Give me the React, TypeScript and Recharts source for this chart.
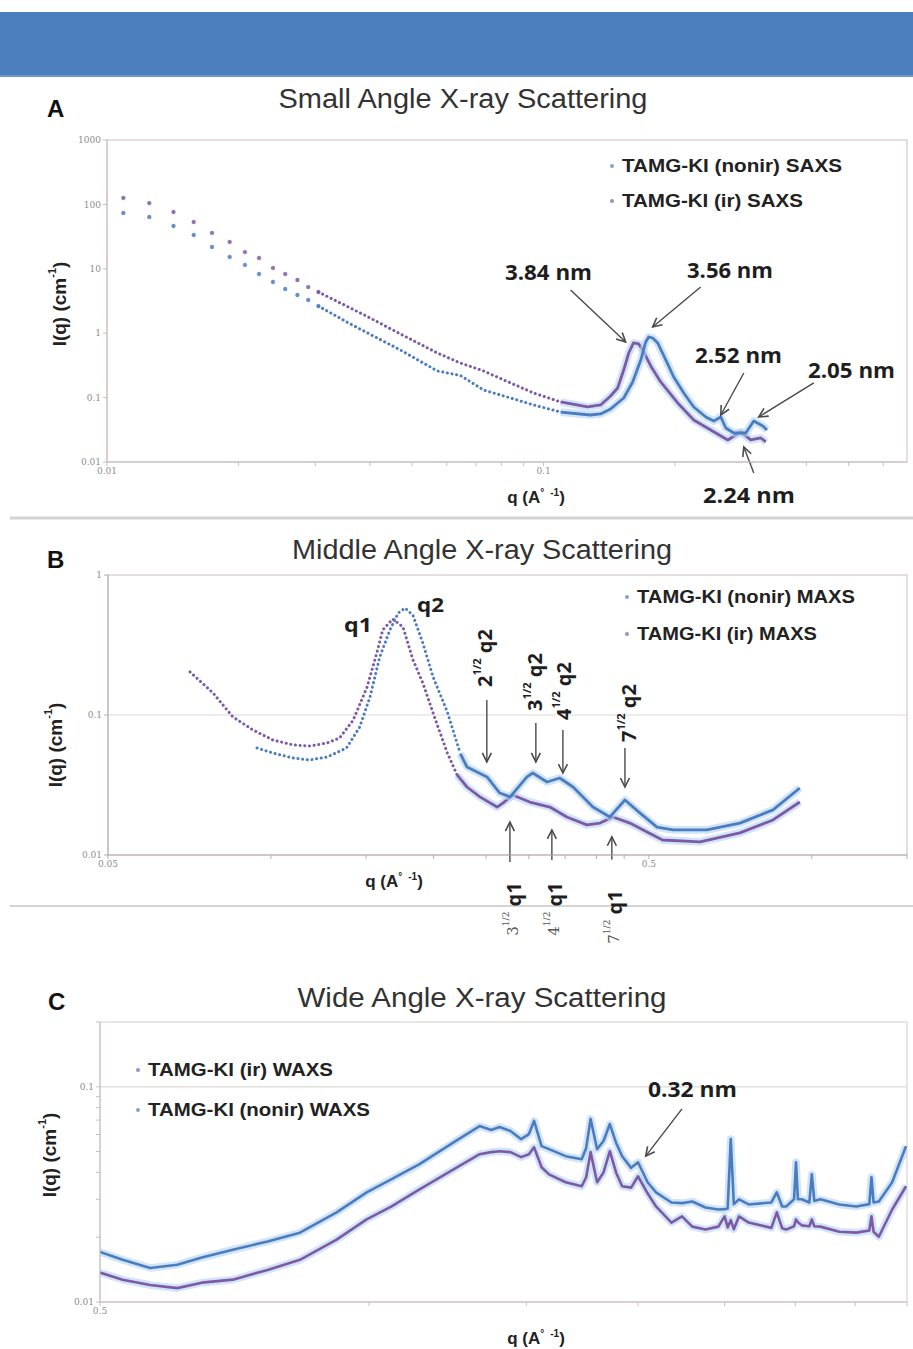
import React from 'react';
import { ComposedChart, Line, XAxis, YAxis, ReferenceLine, ReferenceArea } from 'recharts';

const PURPLE = '#7d5aa6';
const BLUE = '#4a7cc0';
const HALO = '#b4d2f2';
const AXIS = '#c9bebe';

// ---------- Panel A : SAXS ----------
const saxsIrQ = [0.0109, 0.0125, 0.0142, 0.0158, 0.0174, 0.0191, 0.0207, 0.0223, 0.024, 0.0256, 0.0273, 0.0289, 0.0305, 0.0361, 0.0401, 0.047, 0.0571, 0.0645, 0.0729, 0.084, 0.0949, 0.1094, 0.1262, 0.1351, 0.1424, 0.1478, 0.1526, 0.1567, 0.1607, 0.1652, 0.1687, 0.176, 0.1855, 0.2029, 0.2208, 0.2415, 0.2642, 0.283, 0.2983, 0.3145, 0.3229];
const saxsIrI = [126, 105, 76.2, 53.3, 36.0, 26.1, 18.2, 14.7, 10.3, 8.3, 6.7, 5.21, 4.36, 2.46, 1.72, 0.972, 0.493, 0.344, 0.259, 0.169, 0.118, 0.0855, 0.0715, 0.0768, 0.106, 0.141, 0.268, 0.493, 0.705, 0.68, 0.548, 0.31, 0.175, 0.0825, 0.0449, 0.0314, 0.022, 0.0292, 0.022, 0.0236, 0.0205];
const saxsNonirQ = [0.0109, 0.0125, 0.0142, 0.0158, 0.0174, 0.0191, 0.0207, 0.0223, 0.024, 0.0256, 0.0273, 0.0289, 0.0305, 0.0361, 0.047, 0.0571, 0.0645, 0.0729, 0.084, 0.0949, 0.1094, 0.128, 0.1351, 0.1424, 0.1526, 0.16, 0.167, 0.1714, 0.1741, 0.1778, 0.1826, 0.1905, 0.1987, 0.2095, 0.2208, 0.2353, 0.2454, 0.2547, 0.2615, 0.2728, 0.2905, 0.3031, 0.3178, 0.325];
const saxsNonirI = [73.5, 63.7, 46.2, 33.5, 21.8, 15.3, 11.5, 8.3, 6.24, 4.86, 3.92, 3.28, 2.64, 1.39, 0.548, 0.259, 0.22, 0.131, 0.0986, 0.0768, 0.0597, 0.0537, 0.0557, 0.0665, 0.0986, 0.175, 0.384, 0.73, 0.873, 0.842, 0.705, 0.384, 0.209, 0.118, 0.0715, 0.05, 0.0433, 0.05, 0.0337, 0.0282, 0.0282, 0.0433, 0.0362, 0.0314];
const saxsXTicks = [0.01, 0.02, 0.03, 0.04, 0.05, 0.06, 0.07, 0.08, 0.09, 0.1, 0.2, 0.3, 0.4, 0.5, 0.6];
const saxsXLabels = [0.01, 0.1];
const saxsYTicks = [0.01, 0.1, 1, 10, 100, 1000];

// ---------- Panel B : MAXS ----------
const maxsIrQ = [0.0709, 0.0782, 0.0851, 0.0927, 0.1009, 0.1099, 0.118, 0.127, 0.134, 0.142, 0.1506, 0.157, 0.161, 0.168, 0.1755, 0.183, 0.191, 0.201, 0.212, 0.221, 0.2305, 0.2435, 0.262, 0.2685, 0.28, 0.301, 0.328, 0.3525, 0.384, 0.406, 0.429, 0.461, 0.496, 0.53, 0.6215, 0.7365, 0.848, 0.9505];
const maxsIrI = [0.203, 0.1436, 0.0968, 0.0781, 0.0663, 0.0611, 0.0601, 0.0631, 0.0685, 0.092, 0.158, 0.277, 0.405, 0.485, 0.425, 0.25, 0.169, 0.095, 0.0535, 0.0373, 0.0306, 0.026, 0.022, 0.0235, 0.0268, 0.0239, 0.022, 0.0187, 0.0164, 0.0169, 0.0187, 0.0169, 0.0146, 0.0128, 0.0124, 0.0144, 0.0178, 0.0239];
const maxsNonirQ = [0.0943, 0.1009, 0.1099, 0.118, 0.127, 0.138, 0.146, 0.1525, 0.159, 0.166, 0.172, 0.177, 0.183, 0.191, 0.1995, 0.212, 0.224, 0.2305, 0.251, 0.265, 0.277, 0.2975, 0.305, 0.324, 0.342, 0.362, 0.394, 0.4235, 0.4515, 0.481, 0.5175, 0.554, 0.64, 0.7365, 0.848, 0.9505];
const maxsNonirI = [0.0581, 0.0535, 0.0493, 0.0477, 0.0501, 0.0581, 0.0821, 0.1344, 0.2597, 0.405, 0.535, 0.581, 0.518, 0.327, 0.187, 0.105, 0.053, 0.0425, 0.0361, 0.0277, 0.026, 0.0361, 0.0385, 0.0332, 0.0355, 0.0306, 0.022, 0.0187, 0.0247, 0.02, 0.0158, 0.0151, 0.0151, 0.0169, 0.021, 0.0301];
const maxsXTicks = [0.05, 0.1, 0.15, 0.2, 0.25, 0.3, 0.35, 0.4, 0.45, 0.5, 1, 1.5];
const maxsXLabels = [0.05, 0.5];
const maxsYTicks = [0.01, 0.1, 1];

// ---------- Panel C : WAXS ----------
const waxsQ = [0.5, 0.53, 0.569, 0.61, 0.65, 0.704, 0.77, 0.837, 0.92, 0.994, 1.06, 1.139, 1.26, 1.33, 1.37, 1.4, 1.44, 1.48, 1.51, 1.53, 1.56, 1.59, 1.66, 1.73, 1.75, 1.77, 1.8, 1.83, 1.86, 1.89, 1.92, 1.965, 2.0, 2.05, 2.095, 2.18, 2.24, 2.3, 2.38, 2.46, 2.5, 2.52, 2.54, 2.56, 2.595, 2.66, 2.82, 2.86, 2.9, 2.93, 2.99, 3.005, 3.02, 3.05, 3.11, 3.13, 3.15, 3.2, 3.36, 3.51, 3.63, 3.65, 3.67, 3.72, 3.85, 3.99];
const waxsNonir = [0.0171, 0.0157, 0.0144, 0.0149, 0.0161, 0.0175, 0.0191, 0.021, 0.0261, 0.0323, 0.0372, 0.0437, 0.0571, 0.0657, 0.063, 0.065, 0.0623, 0.0571, 0.0603, 0.0694, 0.053, 0.0513, 0.0476, 0.0461, 0.052, 0.0709, 0.0513, 0.056, 0.0671, 0.055, 0.0476, 0.042, 0.0446, 0.036, 0.0323, 0.029, 0.0288, 0.0293, 0.0275, 0.0269, 0.027, 0.0272, 0.0571, 0.0285, 0.03, 0.0284, 0.029, 0.0323, 0.0278, 0.0278, 0.03, 0.0446, 0.03, 0.03, 0.029, 0.0392, 0.0295, 0.03, 0.0284, 0.0278, 0.0285, 0.038, 0.029, 0.0293, 0.036, 0.053];
const waxsIr = [0.0137, 0.0127, 0.012, 0.0116, 0.0123, 0.0127, 0.0141, 0.0157, 0.0195, 0.0242, 0.0278, 0.0334, 0.0427, 0.0486, 0.0497, 0.0502, 0.0497, 0.0471, 0.0486, 0.0524, 0.0423, 0.0392, 0.036, 0.0345, 0.038, 0.0497, 0.036, 0.04, 0.0502, 0.04, 0.0345, 0.034, 0.0384, 0.032, 0.0278, 0.0234, 0.025, 0.0224, 0.0217, 0.0224, 0.025, 0.0222, 0.024, 0.0218, 0.025, 0.0234, 0.0221, 0.0261, 0.022, 0.0217, 0.0225, 0.0242, 0.0235, 0.0227, 0.0225, 0.0242, 0.0225, 0.0224, 0.0212, 0.021, 0.0215, 0.025, 0.0212, 0.0201, 0.0269, 0.0345];
const waxsXTicks = [0.5, 1, 1.5, 2, 2.5, 3, 3.5, 4];
const waxsXLabels = [0.5];
const waxsYTicks = [0.01, 0.02, 0.03, 0.04, 0.05, 0.06, 0.07, 0.08, 0.09, 0.1, 0.2];
const waxsYLabels = [0.01, 0.1];

// ---------- annotation arrows (data coordinates) ----------
const saxsArrows: [number, number, number, number][] = [
  [0.1153, 4.69, 0.1542, 0.73],
  [0.229, 5.21, 0.1778, 1.25],
  [0.2875, 0.241, 0.2547, 0.0537],
  [0.416, 0.169, 0.311, 0.05],
  [0.3031, 0.00675, 0.2875, 0.0171],
];
const maxsArrows: [number, number, number, number][] = [
  [0.2508, 0.128, 0.2508, 0.0462],
  [0.309, 0.0877, 0.309, 0.0462],
  [0.3467, 0.0781, 0.3467, 0.0385],
  [0.4515, 0.0581, 0.4515, 0.0306],
  [0.2767, 0.0089, 0.2767, 0.0172],
  [0.3308, 0.0092, 0.3308, 0.0151],
  [0.427, 0.0093, 0.427, 0.0135],
];
const waxsArrows: [number, number, number, number][] = [[2.24, 0.0789, 2.04, 0.0476]];

type Pt = { q: number; I: number };
const zip = (q: number[], v: number[]): Pt[] => q.map((x, i) => ({ q: x, I: v[i] }));
const range = (p: Pt[], lo: number, hi: number): Pt[] => {
  let a = 0;
  p.forEach((d, i) => { if (d.q <= lo) a = i; });
  let b = p.length - 1;
  for (let i = p.length - 1; i >= 0; i--) if (p[i].q >= hi) b = i;
  return p.slice(a, b + 1);
};

const ArrowShape = (props: any) => {
  const { x1, y1, x2, y2 } = props;
  const ang = Math.atan2(y2 - y1, x2 - x1);
  const L = 9, W = 4.5;
  const bx = x2 - L * Math.cos(ang), by = y2 - L * Math.sin(ang);
  const px = -Math.sin(ang) * W, py = Math.cos(ang) * W;
  return (
    <g>
      <line x1={x1} y1={y1} x2={x2} y2={y2} stroke="#4a4a4a" strokeWidth={1.4} />
      <polyline points={`${bx + px},${by + py} ${x2},${y2} ${bx - px},${by - py}`} fill="none" stroke="#4a4a4a" strokeWidth={1.6} />
    </g>
  );
};

const arrows = (pre: string, list: [number, number, number, number][]) =>
  list.map((a, i) => (
    <ReferenceLine key={pre + i} segment={[{ x: a[0], y: a[1] }, { x: a[2], y: a[3] }]} ifOverflow="visible" shape={ArrowShape} />
  ));

const dotsLine = (key: string, data: Pt[], color: string) => (
  <Line key={key} data={data} dataKey="I" stroke="none" isAnimationActive={false} activeDot={false}
    dot={{ r: 1.9, fill: color, stroke: color, strokeWidth: 0.4, fillOpacity: 0.85 }} />
);
const dottedLine = (key: string, data: Pt[], color: string) => (
  <Line key={key} data={data} dataKey="I" stroke={color} strokeWidth={3} strokeDasharray="0.1 4.6" strokeLinecap="round"
    dot={false} activeDot={false} isAnimationActive={false} />
);
const solidLine = (key: string, data: Pt[], color: string, w = 2.8) => [
  <Line key={key + 'h'} data={data} dataKey="I" stroke={HALO} strokeWidth={w + 5} strokeOpacity={0.6} strokeLinejoin="round"
    dot={false} activeDot={false} isAnimationActive={false} />,
  <Line key={key} data={data} dataKey="I" stroke={color} strokeWidth={w} strokeLinejoin="round"
    dot={false} activeDot={false} isAnimationActive={false} />,
];

const tickStyle = { fontSize: 9, fill: '#8c8c8c', fontFamily: 'DejaVu Serif' };
const fmt = (labels: number[]) => (v: number) => (labels.includes(v) ? String(v) : '');

function SaxsChart() {
  const ir = zip(saxsIrQ, saxsIrI);
  const non = zip(saxsNonirQ, saxsNonirI);
  return (
    <ComposedChart width={913} height={380} margin={{ top: 20, right: 6, bottom: 8, left: 0 }}>
      <XAxis dataKey="q" type="number" scale="log" domain={[0.01, 0.68]} allowDataOverflow ticks={saxsXTicks} interval={0}
        tickFormatter={fmt(saxsXLabels)} tick={tickStyle} tickSize={4} height={30} stroke={AXIS} />
      <YAxis type="number" scale="log" domain={[0.01, 1000]} allowDataOverflow ticks={saxsYTicks} interval={0}
        tick={tickStyle} tickSize={4} width={107} stroke={AXIS} />
      <ReferenceArea x1={0.01} x2={0.68} y1={0.01} y2={1000} fill="none" stroke="#dcd4d4" strokeWidth={1.5} ifOverflow="visible" />
      {dotsLine('ad1', ir.filter((d) => d.q <= 0.0306), PURPLE)}
      {dotsLine('ad2', non.filter((d) => d.q <= 0.0306), BLUE)}
      {dottedLine('at1', range(ir, 0.0305, 0.1094), PURPLE)}
      {dottedLine('at2', range(non, 0.0305, 0.1094), BLUE)}
      {solidLine('as1', range(ir, 0.1094, 10), PURPLE)}
      {solidLine('as2', range(non, 0.1094, 10), BLUE)}
      {arrows('aa', saxsArrows)}
    </ComposedChart>
  );
}

function MaxsChart() {
  const ir = zip(maxsIrQ, maxsIrI);
  const non = zip(maxsNonirQ, maxsNonirI);
  return (
    <ComposedChart width={913} height={330} margin={{ top: 20, right: 6, bottom: 6, left: 0 }}>
      <XAxis dataKey="q" type="number" scale="log" domain={[0.05, 1.5]} allowDataOverflow ticks={maxsXTicks} interval={0}
        tickFormatter={fmt(maxsXLabels)} tick={tickStyle} tickSize={4} height={24} stroke="#b8adad" />
      <YAxis type="number" scale="log" domain={[0.01, 1]} allowDataOverflow ticks={maxsYTicks} interval={0}
        tick={tickStyle} tickSize={4} width={108} stroke="#b8adad" />
      <ReferenceArea x1={0.05} x2={1.5} y1={0.01} y2={1} fill="none" stroke="#dcd4d4" strokeWidth={1.5} ifOverflow="visible" />
      <ReferenceLine y={0.1} stroke="#e0dada" strokeWidth={1.2} />
      {dottedLine('bt1', range(ir, 0, 0.221), PURPLE)}
      {dottedLine('bt2', range(non, 0, 0.224), BLUE)}
      {solidLine('bs1', range(ir, 0.221, 10), PURPLE)}
      {solidLine('bs2', range(non, 0.224, 10), BLUE)}
      {arrows('ba', maxsArrows)}
    </ComposedChart>
  );
}

function WaxsChart() {
  const ir = zip(waxsQ, waxsIr);
  const non = zip(waxsQ, waxsNonir);
  return (
    <ComposedChart width={913} height={340} margin={{ top: 20, right: 6, bottom: 10, left: 0 }}>
      <XAxis dataKey="q" type="number" scale="log" domain={[0.5, 4]} allowDataOverflow ticks={waxsXTicks} interval={0}
        tickFormatter={fmt(waxsXLabels)} tick={tickStyle} tickSize={4} height={30} stroke={AXIS} />
      <YAxis type="number" scale="log" domain={[0.01, 0.2]} allowDataOverflow ticks={waxsYTicks} interval={0}
        tickFormatter={fmt(waxsYLabels)} tick={tickStyle} tickSize={4} width={100} stroke={AXIS} />
      <ReferenceArea x1={0.5} x2={4} y1={0.01} y2={0.2} fill="none" stroke="#e2dddd" strokeWidth={1.5} ifOverflow="visible" />
      <ReferenceLine y={0.1} stroke="#e0dada" strokeWidth={1.2} />
      {solidLine('cs1', ir, PURPLE, 2.6)}
      {solidLine('cs2', non, BLUE, 2.6)}
      {arrows('ca', waxsArrows)}
    </ComposedChart>
  );
}

const SANS = 'Liberation Sans, Arial, sans-serif';
const ANN = 'Open Sans, Liberation Sans, sans-serif';

const Ann = ({ x, y, len, children, size = 21 }: any) => (
  <text x={x} y={y} fontFamily={ANN} fontWeight={700} fontSize={size} fill="#1e1e1e" textLength={len} lengthAdjust="spacingAndGlyphs">{children}</text>
);
const Leg = ({ x, y, len, color, children }: any) => (
  <g>
    <circle cx={x - 10} cy={y - 6} r={2} fill={color} opacity={0.7} />
    <text x={x} y={y} fontFamily={SANS} fontWeight={700} fontSize={19} fill="#222" textLength={len} lengthAdjust="spacingAndGlyphs">{children}</text>
  </g>
);
const Title = ({ x, y, len, children }: any) => (
  <text x={x} y={y} textAnchor="middle" fontFamily={SANS} fontSize={27} fill="#333" textLength={len} lengthAdjust="spacingAndGlyphs">{children}</text>
);
const Letter = ({ x, y, children }: any) => (
  <text x={x} y={y} fontFamily={SANS} fontWeight={700} fontSize={24} fill="#111">{children}</text>
);
const XTitle = ({ x, y }: any) => (
  <text x={x} y={y} textAnchor="middle" fontFamily={SANS} fontWeight={700} fontSize={17} fill="#222">
    q (A<tspan fontSize={10} dy={-7}>°</tspan><tspan fontSize={10} dx={6}>-1</tspan><tspan dy={7}>)</tspan>
  </text>
);
const YTitle = ({ x, y }: any) => (
  <text x={x} y={y} transform={`rotate(-90 ${x} ${y})`} textAnchor="middle" dominantBaseline="central" fontFamily={SANS}
    fontWeight={700} fontSize={19} fill="#222">
    I(q) (cm<tspan fontSize={11} dy={-7}>-1</tspan><tspan dy={7}>)</tspan>
  </text>
);
const RotQ2 = ({ x, y, n }: any) => (
  <text x={x} y={y} transform={`rotate(-90 ${x} ${y})`} textAnchor="middle" dominantBaseline="central" fontFamily={ANN}
    fontWeight={700} fontSize={20} fill="#1e1e1e">
    {n}<tspan fontSize={11} dy={-8}>1/2</tspan><tspan dy={8}> q2</tspan>
  </text>
);
const RotQ1 = ({ x, y, n }: any) => (
  <text x={x} y={y} transform={`rotate(-90 ${x} ${y})`} textAnchor="middle" dominantBaseline="central" fill="#1e1e1e">
    <tspan fontFamily="DejaVu Serif" fontSize={15} fill="#555">{n}</tspan>
    <tspan fontFamily="DejaVu Serif" fontSize={9} fill="#555" dy={-7}>1/2</tspan>
    <tspan fontFamily={ANN} fontWeight={700} fontSize={20} dy={7}> q1</tspan>
  </text>
);

export default function App() {
  return (
    <div style={{ position: 'absolute', left: 0, top: 0, width: 913, height: 1349, background: '#fff', overflow: 'hidden' }}>
      <div style={{ position: 'absolute', left: 0, top: 12, width: 913, height: 63, background: '#4b7fbe', borderBottom: '2px solid #6e98cc' }} />
      <div style={{ position: 'absolute', left: 0, top: 120 }}><SaxsChart /></div>
      <div style={{ position: 'absolute', left: 0, top: 555 }}><MaxsChart /></div>
      <div style={{ position: 'absolute', left: 0, top: 1002 }}><WaxsChart /></div>
      <svg width={913} height={1349} style={{ position: 'absolute', left: 0, top: 0, pointerEvents: 'none' }}>
        <line x1={10} y1={518} x2={913} y2={518} stroke="#d4d4d4" strokeWidth={3} />
        <line x1={10} y1={906} x2={913} y2={906} stroke="#d4d4d4" strokeWidth={2} />

        {/* Panel A */}
        <Letter x={47} y={117}>A</Letter>
        <Title x={463} y={108} len={369}>Small Angle X-ray Scattering</Title>
        <Leg x={622} y={172} len={220} color={BLUE}>TAMG-KI (nonir)  SAXS</Leg>
        <Leg x={622} y={207} len={181} color={PURPLE}>TAMG-KI (ir)  SAXS</Leg>
        <Ann x={505} y={280} len={87}>3.84 nm</Ann>
        <Ann x={687} y={278} len={86}>3.56 nm</Ann>
        <Ann x={695} y={363} len={87}>2.52 nm</Ann>
        <Ann x={808} y={378} len={87}>2.05 nm</Ann>
        <Ann x={703} y={503} len={92}>2.24 nm</Ann>
        <XTitle x={536} y={503} />
        <YTitle x={59} y={304} />

        {/* Panel B */}
        <Letter x={47} y={568}>B</Letter>
        <Title x={482} y={559} len={380}>Middle Angle X-ray Scattering</Title>
        <Leg x={637} y={603} len={218} color={BLUE}>TAMG-KI (nonir) MAXS</Leg>
        <Leg x={637} y={640} len={180} color={PURPLE}>TAMG-KI (ir) MAXS</Leg>
        <Ann x={344} y={632} len={28} size={20}>q1</Ann>
        <Ann x={417} y={612} len={27} size={20}>q2</Ann>
        <RotQ2 x={484} y={658} n="2" />
        <RotQ2 x={534} y={682} n="3" />
        <RotQ2 x={563} y={691} n="4" />
        <RotQ2 x={628} y={713} n="7" />
        <RotQ1 x={513} y={909} n="3" />
        <RotQ1 x={554} y={909} n="4" />
        <RotQ1 x={614} y={917} n="7" />
        <XTitle x={394} y={887} />
        <YTitle x={55} y={745} />

        {/* Panel C */}
        <Letter x={48} y={1010}>C</Letter>
        <Title x={482} y={1007} len={369}>Wide Angle X-ray Scattering</Title>
        <Leg x={148} y={1076} len={185} color={PURPLE}>TAMG-KI (ir) WAXS</Leg>
        <Leg x={148} y={1116} len={222} color={BLUE}>TAMG-KI (nonir) WAXS</Leg>
        <Ann x={648} y={1097} len={89}>0.32 nm</Ann>
        <XTitle x={536} y={1344} />
        <YTitle x={49} y={1155} />
      </svg>
    </div>
  );
}
